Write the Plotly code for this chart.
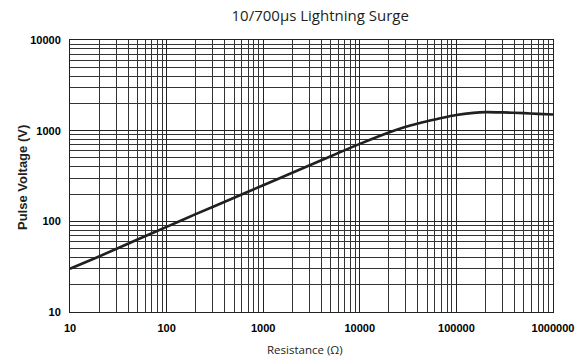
import plotly.graph_objects as go

resistance = [10, 20, 50, 100, 200, 500, 1000, 2000, 5000, 10000, 20000, 30000,
              40000, 50000, 70000, 100000, 150000, 200000, 300000, 500000, 700000, 1000000]
pulse_voltage = [30, 41, 63, 87, 120, 182, 250, 343, 522, 715, 955, 1105,
                 1200, 1272, 1382, 1490, 1570, 1600, 1590, 1560, 1530, 1505]

x_ticks = [10, 100, 1000, 10000, 100000, 1000000]
x_labels = ["10", "100", "1000", "10000", "100000", "1000000"]
y_ticks = [10, 100, 1000, 10000]
y_labels = ["10", "100", "1000", "10000"]

fig = go.Figure()
fig.add_trace(go.Scatter(
    x=resistance, y=pulse_voltage, mode="lines",
    line=dict(color="#231f20", width=2.6, shape="spline", smoothing=0.8),
    showlegend=False, hoverinfo="skip"))

tick_font = dict(family="Liberation Sans", size=11, color="black", weight="bold")

fig.update_layout(
    width=579, height=358,
    margin=dict(l=70, r=26, t=40, b=46, autoexpand=False),
    paper_bgcolor="white", plot_bgcolor="white",
    title=dict(text="10/700µs Lightning Surge", x=0.553, xanchor="center",
               y=0.955, yanchor="middle",
               font=dict(family="Open Sans", size=15, color="#231f20")),
    xaxis=dict(
        type="log", range=[1, 6], tickvals=x_ticks, ticktext=x_labels,
        tickfont=tick_font, ticks="", ticklabelstandoff=6, automargin=False,
        showgrid=True, gridcolor="#222", gridwidth=1,
        showline=True, linecolor="#222", linewidth=1, mirror=True,
        zeroline=False,
        minor=dict(dtick="D1", showgrid=True, gridcolor="#333", gridwidth=1, ticks=""),
    ),
    yaxis=dict(
        type="log", range=[1, 4], tickvals=y_ticks, ticktext=y_labels,
        tickfont=tick_font, ticks="", ticklabelstandoff=6, automargin=False,
        showgrid=True, gridcolor="#222", gridwidth=1,
        showline=True, linecolor="#222", linewidth=1, mirror=True,
        zeroline=False,
        minor=dict(dtick="D1", showgrid=True, gridcolor="#333", gridwidth=1, ticks=""),
    ),
    annotations=[
        dict(text="Resistance (Ω)", xref="paper", yref="paper",
             x=(304.5 - 70) / 483, y=-37 / 272, xanchor="center", yanchor="middle",
             showarrow=False, font=dict(family="Open Sans", size=11.5, color="#231f20")),
        dict(text="Pulse Voltage (V)", xref="paper", yref="paper",
             x=(22 - 70) / 483, y=(312 - 178) / 272, xanchor="center", yanchor="middle",
             textangle=-90, showarrow=False,
             font=dict(family="Liberation Sans", size=13, color="#231f20", weight="bold")),
    ],
)

fig.write_html("out.html")
